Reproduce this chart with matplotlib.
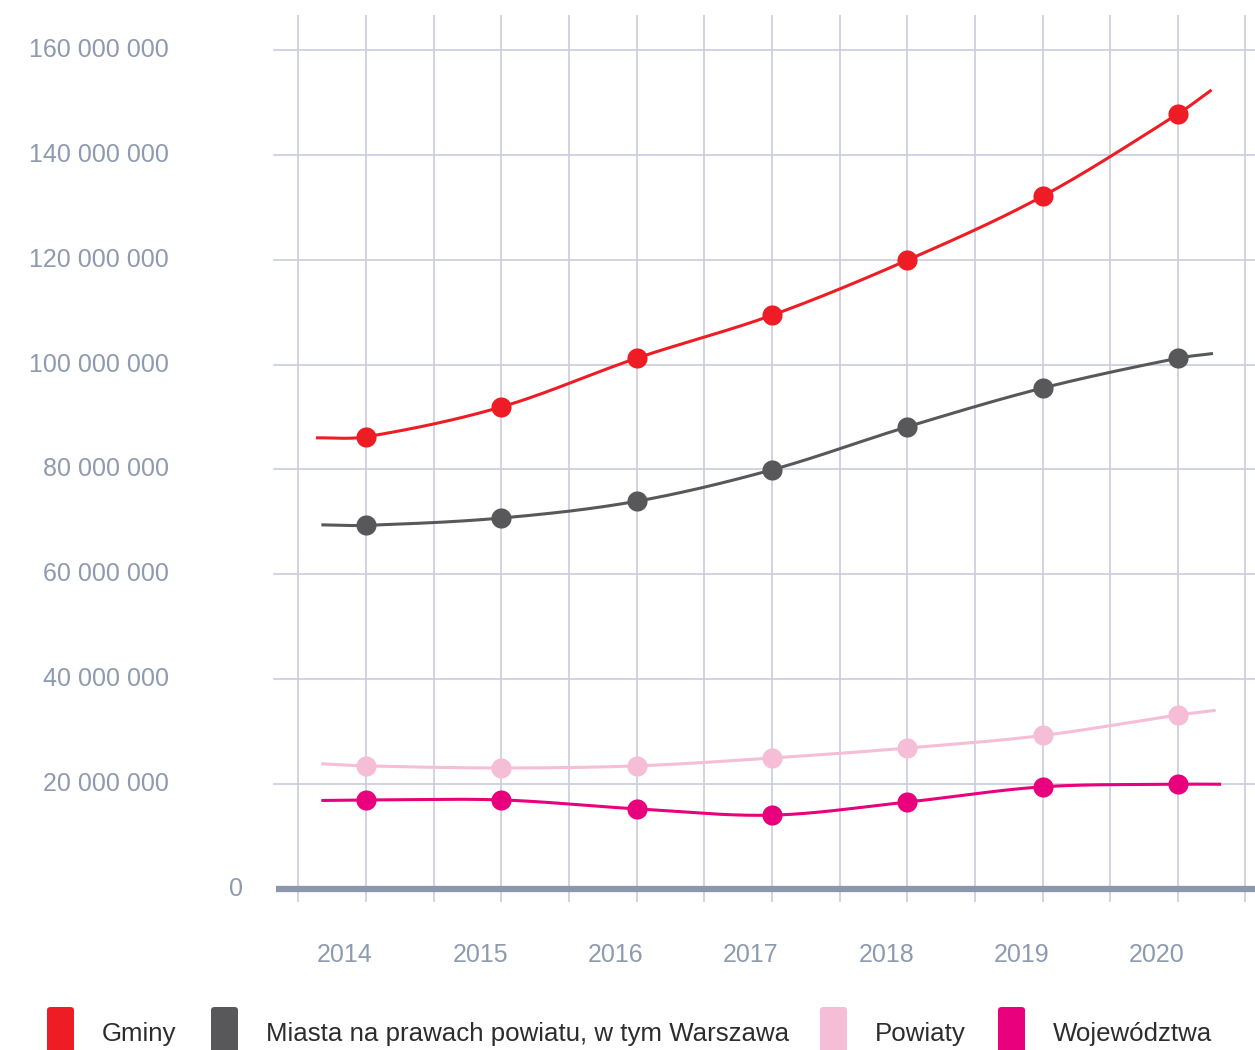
import numpy as np
import matplotlib
matplotlib.use("Agg")
import matplotlib.pyplot as plt
from matplotlib.patches import FancyBboxPatch

plt.rcParams['font.family'] = ['Liberation Sans', 'DejaVu Sans']

# ---------------- data ----------------
years = [2014, 2015, 2016, 2017, 2018, 2019, 2020]
series_names = ["Gminy", "Miasta na prawach powiatu, w tym Warszawa", "Powiaty", "Województwa"]
gminy = [86_200_000, 91_900_000, 101_200_000, 109_400_000, 119_900_000, 132_100_000, 147_800_000]
miasta = [69_300_000, 70_700_000, 73_900_000, 79_900_000, 88_100_000, 95_500_000, 101_200_000]
powiaty = [23_400_000, 23_000_000, 23_400_000, 24_900_000, 26_800_000, 29_200_000, 33_100_000]
wojewodztwa = [16_900_000, 16_900_000, 15_200_000, 14_000_000, 16_500_000, 19_400_000, 19_900_000]
# line ends drawn beyond the first/last point (year, value)
left_ends = [(2013.63, 86_000_000), (2013.67, 69_400_000), (2013.67, 23_800_000), (2013.67, 16_800_000)]
right_ends = [(2020.25, 152_400_000), (2020.26, 102_100_000), (2020.28, 34_000_000), (2020.32, 19_900_000)]
y_ticks = [0, 20_000_000, 40_000_000, 60_000_000, 80_000_000, 100_000_000, 120_000_000, 140_000_000, 160_000_000]
y_tick_labels = ["0", "20 000 000", "40 000 000", "60 000 000", "80 000 000", "100 000 000",
                 "120 000 000", "140 000 000", "160 000 000"]
x_tick_labels = ["2014", "2015", "2016", "2017", "2018", "2019", "2020"]

colors = ["#ee1c25", "#58585a", "#f5bdd6", "#e8007d"]

# ---------------- figure / scales ----------------
W, H = 1255, 1050
fig = plt.figure(figsize=(W / 100, H / 100), dpi=100)
ax = fig.add_axes([0, 0, 1, 1])
ax.axis("off")

px_per_year = 135.3
x0_px = 366
xmin = 2014 - x0_px / px_per_year
ax.set_xlim(xmin, xmin + W / px_per_year)
px_per_unit = 5.24 / 1_000_000
zero_px = 888.5
ymin = -(H - zero_px) / px_per_unit
ax.set_ylim(ymin, ymin + H / px_per_unit)

def px2x(px):
    return xmin + px / px_per_year

def py2y(py):
    return ymin + (H - py) / px_per_unit

grid_c = "#c9cddc"
label_c = "#8e9ab0"

# vertical grid lines every half year
for v in np.arange(2013.5, 2021.0, 0.5):
    ax.plot([v, v], [py2y(902), py2y(15)], color=grid_c, lw=1.2, zorder=1,
            solid_capstyle="butt")
# horizontal grid lines
for t in y_ticks[1:]:
    ax.plot([px2x(274), px2x(W)], [t, t], color=grid_c, lw=1.2, zorder=1)
# zero line
ax.plot([px2x(276), px2x(W)], [0, 0], color="#8c97ae", lw=4.5, zorder=2,
        solid_capstyle="butt")

# y labels
for t, lab in zip(y_ticks, y_tick_labels):
    xr = 243 if t == 0 else 169
    ax.text(px2x(xr), t, lab, ha="right", va="center", color=label_c, fontsize=18)

# x labels (shifted left like the original)
for yr, lab in zip(years, x_tick_labels):
    ax.text(yr - 21 / px_per_year, py2y(955), lab, ha="center", va="center",
            color=label_c, fontsize=18)

# ---------------- smooth lines ----------------
def cardinal(xs, ys, n=60):
    xs = np.asarray(xs, float)
    ys = np.asarray(ys, float)
    m = np.zeros_like(ys)
    for i in range(len(xs)):
        if i == 0:
            m[i] = (ys[1] - ys[0]) / (xs[1] - xs[0])
        elif i == len(xs) - 1:
            m[i] = (ys[-1] - ys[-2]) / (xs[-1] - xs[-2])
        else:
            m[i] = (ys[i + 1] - ys[i - 1]) / (xs[i + 1] - xs[i - 1])
    ox, oy = [], []
    for i in range(len(xs) - 1):
        h = xs[i + 1] - xs[i]
        t = np.linspace(0, 1, n)
        h00 = 2 * t**3 - 3 * t**2 + 1
        h10 = t**3 - 2 * t**2 + t
        h01 = -2 * t**3 + 3 * t**2
        h11 = t**3 - t**2
        yy = h00 * ys[i] + h10 * h * m[i] + h01 * ys[i + 1] + h11 * h * m[i + 1]
        ox.extend(xs[i] + t * h)
        oy.extend(yy)
    return np.array(ox), np.array(oy)

all_series = [gminy, miasta, powiaty, wojewodztwa]
for k, vals in enumerate(all_series):
    xs = [left_ends[k][0]] + years + [right_ends[k][0]]
    ys = [left_ends[k][1]] + vals + [right_ends[k][1]]
    cx, cy = cardinal(xs, ys)
    ax.plot(cx, cy, color=colors[k], lw=2.2, zorder=3 + k, solid_capstyle="butt")
    ax.plot(years, vals, "o", color=colors[k], ms=14.5, mec="none", zorder=3 + k)

# ---------------- legend ----------------
leg_sq_x = [47, 211, 820, 998]
for k, name in enumerate(series_names):
    sx = leg_sq_x[k]
    patch = FancyBboxPatch((sx / W, (H - 1058) / H), 27 / W, 51 / H,
                           boxstyle="round,pad=0,rounding_size=0.003",
                           transform=fig.transFigure, facecolor=colors[k],
                           edgecolor="none")
    fig.patches.append(patch)
    fig.text((sx + 55) / W, (H - 1034) / H, name, ha="left", va="center",
             color="#2d2d2d", fontsize=18.6)

fig.savefig("out.png", dpi=100)
